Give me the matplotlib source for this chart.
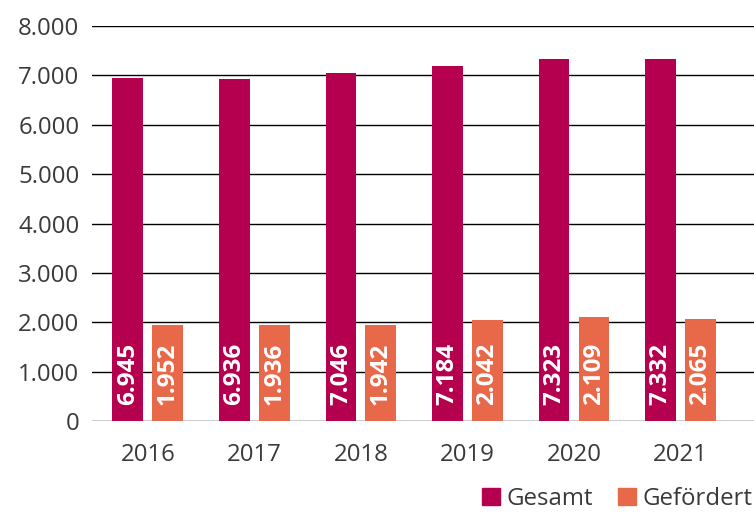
import matplotlib.pyplot as plt
from matplotlib.patches import Patch
import numpy as np

plt.rcParams['font.family'] = ['Open Sans', 'DejaVu Sans']

# Anzahl gesamt und davon gefördert, je Jahr
years = ["2016", "2017", "2018", "2019", "2020", "2021"]
gesamt = [6945, 6936, 7046, 7184, 7323, 7332]
gefoerdert = [1952, 1936, 1942, 2042, 2109, 2065]
y_ticks = [0, 1000, 2000, 3000, 4000, 5000, 6000, 7000, 8000]

COLOR_GESAMT = '#B5004F'
COLOR_GEFOERDERT = '#E8694A'
TEXT_COLOR = '#3a3a3a'


def de_format(value):
    """Format an integer with a dot as thousands separator"""
    return f"{value:,}".replace(",", ".")


fig = plt.figure(figsize=(7.54, 5.15), dpi=100)
ax = fig.add_axes([0.122, 0.1825, 0.878, 0.767])

x = np.arange(len(years))
width = 0.29
offset = 0.1876

bars_g = ax.bar(x - offset, gesamt, width, color=COLOR_GESAMT, zorder=2)
bars_f = ax.bar(x + offset, gefoerdert, width, color=COLOR_GEFOERDERT, zorder=2)

# Werte senkrecht in die Balken schreiben
for bars, values in ((bars_g, gesamt), (bars_f, gefoerdert)):
    for bar, value in zip(bars, values):
        ax.annotate(de_format(value), xy=(bar.get_x() + bar.get_width() / 2, 0),
                    xytext=(0, 11.5), textcoords='offset points',
                    rotation=90, ha='center', va='bottom',
                    color='white', fontsize=17.5, fontweight='bold', zorder=3)

ax.set_xlim(-0.525, 5.69)
ax.set_ylim(0, 8000)
ax.set_yticks(y_ticks)
ax.set_yticklabels([de_format(v) for v in y_ticks])
ax.set_xticks(x)
ax.set_xticklabels(years)

ax.yaxis.grid(True, color='black', linewidth=1.0, zorder=1)
ax.set_axisbelow(True)
for spine in ax.spines.values():
    spine.set_visible(False)
ax.tick_params(axis='both', length=0, labelsize=17.3, colors=TEXT_COLOR)
ax.tick_params(axis='y', pad=9)
ax.tick_params(axis='x', pad=16)

handles = [Patch(color=COLOR_GESAMT), Patch(color=COLOR_GEFOERDERT)]
fig.legend(handles, ["Gesamt", "Gefördert"], loc='lower right',
           bbox_to_anchor=(1.027, -0.034), ncol=2, frameon=False,
           handlelength=0.75, handleheight=0.75, handletextpad=0.3,
           columnspacing=1.0, fontsize=17.3, labelcolor=TEXT_COLOR)

fig.savefig("out.png", dpi=100)
